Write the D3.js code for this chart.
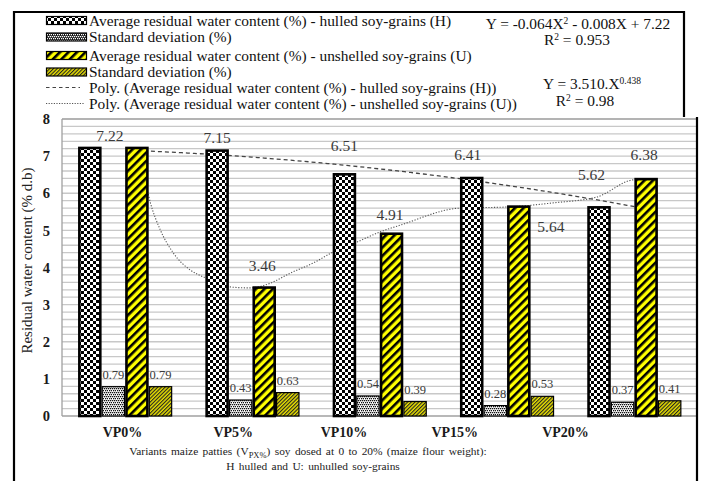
<!DOCTYPE html>
<html>
<head>
<meta charset="utf-8">
<script src="https://cdn.jsdelivr.net/npm/d3@7"></script>
<style>
  html, body { margin: 0; padding: 0; background: #fff; }
  svg { display: block; }
</style>
</head>
<body>
<svg id="chart" width="703" height="481"></svg>
<script>
// ---- data -------------------------------------------------------------
const categories    = ["VP0%", "VP5%", "VP10%", "VP15%", "VP20%"];
const hulledMean    = [7.22, 7.15, 6.51, 6.41, 5.62];
const hulledSD      = [0.79, 0.43, 0.54, 0.28, 0.37];
const unshelledMean = [7.22, 3.46, 4.91, 5.64, 6.38];
const unshelledSD   = [0.79, 0.63, 0.39, 0.53, 0.41];
const yTicks        = [0, 1, 2, 3, 4, 5, 6, 7, 8];

// quadratic trend of the hulled series: a*X^2 + b*X + c, X = 1..5
const hulledPolyCoef = [-0.064, -0.008, 7.22];
// trend of the unshelled series, [X, value] with X = 1..5
const unshelledTrend = [
  [1.00, 7.22], [1.05, 6.55], [1.106, 5.74], [1.184, 5.01], [1.286, 4.39],
  [1.42, 3.93], [1.54, 3.72], [1.75, 3.47], [1.89, 3.45], [2.05, 3.58],
  [2.205, 3.85], [2.385, 4.12], [2.542, 4.42], [2.731, 4.69], [2.911, 4.96],
  [3.068, 5.14], [3.539, 5.60], [3.908, 5.63], [4.269, 5.74], [4.614, 5.90],
  [4.897, 6.36], [5.00, 6.38]
];

const legendItems = [
  "Average residual water content (%) - hulled soy-grains (H)",
  "Standard deviation (%)",
  "Average residual water content (%) - unshelled soy-grains (U)",
  "Standard deviation (%)",
  "Poly. (Average residual water content (%) - hulled soy-grains (H))",
  "Poly. (Average residual water content (%) - unshelled soy-grains (U))"
];

// value-label placement relative to the bar's top centre (dx, baseline dy)
const hulledLabelShift    = [[20, -7], [0, -8], [0, -23.5], [-4, -18], [-7.5, -27.5]];
const unshelledLabelShift = [null, [-2, -16.6], [-1.5, -14], [32, 25], [-2, -19]];

// ---- setup ------------------------------------------------------------
const SERIF = "'Liberation Serif', 'Times New Roman', serif";
const svg = d3.select("#chart");
const P = { left: 62, right: 697, top: 119, bottom: 416 };

const x = d3.scaleBand().domain(categories).range([61.5, 698])
  .paddingInner(0.26).paddingOuter(0.13);
const seriesKeys = ["hulled", "hulledSD", "unshelled", "unshelledSD"];
const xs = d3.scaleBand().domain(seriesKeys).range([0, x.bandwidth()]);
const y = d3.scaleLinear().domain([0, 8]).range([P.bottom, P.top]);
const xLabel = d3.scalePoint().domain(categories).range([122, 565]);

const barCenter = (cat, key) => x(cat) + xs(key) + xs.bandwidth() / 2;
const xt = d3.scaleLinear().domain([1, 5])
  .range([barCenter(categories[0], "unshelled"), barCenter(categories[4], "unshelled")]);

// ---- fill patterns ----------------------------------------------------
const defs = svg.append("defs");

const checker = defs.append("pattern").attr("id", "pChecker")
  .attr("patternUnits", "userSpaceOnUse").attr("width", 6).attr("height", 6);
checker.append("rect").attr("width", 6).attr("height", 6).attr("fill", "#fff");
checker.append("rect").attr("width", 3).attr("height", 3).attr("fill", "#000");
checker.append("rect").attr("x", 3).attr("y", 3).attr("width", 3).attr("height", 3).attr("fill", "#000");

function speckle(id, bg, fg) {
  const p = defs.append("pattern").attr("id", id)
    .attr("patternUnits", "userSpaceOnUse").attr("width", 4).attr("height", 4);
  p.append("rect").attr("width", 4).attr("height", 4).attr("fill", bg);
  [[0, 0], [2, 0], [1, 2], [3, 2]].forEach(([a, b]) =>
    p.append("rect").attr("x", a).attr("y", b).attr("width", 1.3).attr("height", 1.3).attr("fill", fg));
}
speckle("pDots", "#fff", "#111");
speckle("pDotsDark", "#111", "#fff");

const stripes = defs.append("pattern").attr("id", "pStripes")
  .attr("patternUnits", "userSpaceOnUse").attr("width", 6).attr("height", 6)
  .attr("patternTransform", "rotate(45)");
stripes.append("rect").attr("width", 6).attr("height", 6).attr("fill", "#ffff00");
stripes.append("rect").attr("width", 2.6).attr("height", 6).attr("fill", "#000");

const lines = defs.append("pattern").attr("id", "pLines")
  .attr("patternUnits", "userSpaceOnUse").attr("width", 2.6).attr("height", 6)
  .attr("patternTransform", "rotate(45)");
lines.append("rect").attr("width", 2.6).attr("height", 6).attr("fill", "#e8e000");
lines.append("rect").attr("width", 1.1).attr("height", 6).attr("fill", "#222");

const style = {
  hulled:      { fill: "url(#pChecker)", legend: "url(#pChecker)",  sw: 2.6 },
  hulledSD:    { fill: "url(#pDots)",    legend: "url(#pDotsDark)", sw: 1.2 },
  unshelled:   { fill: "url(#pStripes)", legend: "url(#pStripes)",  sw: 2.6 },
  unshelledSD: { fill: "url(#pLines)",   legend: "url(#pLines)",    sw: 1.2 }
};

// ---- gridlines & axes -------------------------------------------------
svg.append("g").selectAll("line").data(y.ticks(40).filter(v => v > 0 && v < 8))
  .join("line")
  .attr("x1", P.left).attr("x2", P.right)
  .attr("y1", d => y(d)).attr("y2", d => y(d))
  .attr("stroke", "#c8c8c8").attr("stroke-width", 1.3);

svg.append("line").attr("x1", P.left).attr("x2", P.right)
  .attr("y1", y(8)).attr("y2", y(8)).attr("stroke", "#9a9a9a").attr("stroke-width", 1.5);
svg.append("line").attr("x1", P.left).attr("x2", P.right)
  .attr("y1", y(0)).attr("y2", y(0)).attr("stroke", "#a0a0a0").attr("stroke-width", 1.3);
svg.append("line").attr("x1", P.left).attr("x2", P.left)
  .attr("y1", y(0)).attr("y2", y(8)).attr("stroke", "#a0a0a0").attr("stroke-width", 1.3);

const yAxis = svg.append("g").attr("transform", `translate(${P.left},0)`)
  .call(d3.axisLeft(y).tickValues(yTicks).tickSize(0).tickPadding(12).tickFormat(d3.format("d")));
yAxis.select(".domain").remove();
yAxis.selectAll("text").attr("font-family", SERIF).attr("font-size", 14.5)
  .attr("font-weight", "bold").attr("fill", "#1a1a1a");

const xAxis = svg.append("g").attr("transform", `translate(0,${P.bottom})`)
  .call(d3.axisBottom(xLabel).tickSize(0).tickPadding(11));
xAxis.select(".domain").remove();
xAxis.selectAll("text").attr("font-family", SERIF).attr("font-size", 14)
  .attr("font-weight", "bold").attr("fill", "#1a1a1a");

// ---- trend lines (behind the bars) ------------------------------------
const hulledFit = X => hulledPolyCoef[0] * X * X + hulledPolyCoef[1] * X + hulledPolyCoef[2];
const line = d3.line().x(d => xt(d[0])).y(d => y(d[1]));
svg.append("path")
  .attr("d", line(d3.range(1, 5.0001, 0.05).map(X => [X, hulledFit(X)])))
  .attr("fill", "none").attr("stroke", "#444").attr("stroke-width", 1.3)
  .attr("stroke-dasharray", "4,3");
svg.append("path")
  .attr("d", line.curve(d3.curveMonotoneX)(unshelledTrend))
  .attr("fill", "none").attr("stroke", "#555").attr("stroke-width", 1.1)
  .attr("stroke-dasharray", "1.2,1.6");

// ---- bars -------------------------------------------------------------
const seriesValues = { hulled: hulledMean, hulledSD: hulledSD, unshelled: unshelledMean, unshelledSD: unshelledSD };
const barData = [];
categories.forEach((c, i) => seriesKeys.forEach(k => barData.push({ c, k, v: seriesValues[k][i] })));

svg.append("g").selectAll("rect").data(barData).join("rect")
  .attr("x", d => x(d.c) + xs(d.k) + style[d.k].sw / 2)
  .attr("width", d => xs.bandwidth() - style[d.k].sw)
  .attr("y", d => y(d.v))
  .attr("height", d => y(0) - y(d.v))
  .attr("fill", d => style[d.k].fill)
  .attr("stroke", "#000").attr("stroke-width", d => style[d.k].sw);

// ---- value labels -----------------------------------------------------
const labels = [];
categories.forEach((c, i) => {
  const h = hulledLabelShift[i];
  labels.push({ x: barCenter(c, "hulled") + h[0], y: y(hulledMean[i]) + h[1], t: hulledMean[i].toFixed(2), fs: 15.5 });
  const u = unshelledLabelShift[i];
  if (u) labels.push({ x: barCenter(c, "unshelled") + u[0], y: y(unshelledMean[i]) + u[1], t: unshelledMean[i].toFixed(2), fs: 15.5 });
  labels.push({ x: barCenter(c, "hulledSD"), y: y(hulledSD[i]) - 8, t: hulledSD[i].toFixed(2), fs: 12.5 });
  labels.push({ x: barCenter(c, "unshelledSD"), y: y(unshelledSD[i]) - 8, t: unshelledSD[i].toFixed(2), fs: 12.5 });
});
svg.append("g").selectAll("text").data(labels).join("text")
  .attr("x", d => d.x).attr("y", d => d.y)
  .attr("text-anchor", "middle")
  .attr("font-family", SERIF).attr("font-size", d => d.fs).attr("fill", "#3a3a3a")
  .text(d => d.t);

// ---- axis titles ------------------------------------------------------
svg.append("text")
  .attr("transform", `translate(32,${(P.top + P.bottom) / 2 - 7}) rotate(-90)`)
  .attr("text-anchor", "middle")
  .attr("font-family", SERIF).attr("font-size", 15).attr("fill", "#222")
  .text("Residual  water content (% d.b)");

const t1 = svg.append("text").attr("x", 308).attr("y", 455).attr("text-anchor", "middle")
  .attr("font-family", SERIF).attr("font-size", 11.4).attr("fill", "#222")
  .attr("word-spacing", 1.5);
t1.append("tspan").text("Variants maize patties (V");
t1.append("tspan").attr("font-size", 8.5).attr("dy", 2.5).text("PX%");
t1.append("tspan").attr("dy", -2.5).text(") soy dosed at 0 to 20% (maize flour weight):");
svg.append("text").attr("x", 313).attr("y", 470).attr("text-anchor", "middle")
  .attr("font-family", SERIF).attr("font-size", 11.4).attr("fill", "#222")
  .attr("word-spacing", 1.5)
  .text("H hulled and U: unhulled soy-grains");

// ---- legend -----------------------------------------------------------
const legendBase = [25.5, 42, 60.5, 77, 92.5, 108.5];
const lg = svg.append("g");
legendItems.forEach((t, i) => {
  const by = legendBase[i];
  const cy = by - 5;
  if (i < 4) {
    const k = seriesKeys[i];
    lg.append("rect").attr("x", 46.5).attr("y", cy - 4).attr("width", 40).attr("height", 8)
      .attr("fill", style[k].legend).attr("stroke", "#000").attr("stroke-width", 1.2);
  } else {
    lg.append("line").attr("x1", 46).attr("x2", i === 4 ? 80 : 85).attr("y1", cy).attr("y2", cy)
      .attr("stroke", i === 4 ? "#444" : "#555").attr("stroke-width", i === 4 ? 1.2 : 1)
      .attr("stroke-dasharray", i === 4 ? "3.5,3" : "1.2,1.4");
  }
  lg.append("text").attr("x", 89).attr("y", by)
    .attr("font-family", SERIF).attr("font-size", 15.4).attr("fill", "#111").text(t);
});

// ---- trend equations --------------------------------------------------
// parts: plain strings, or {sup: "..."} for a raised exponent
function eq(xc, yb, parts) {
  const t = svg.append("text").attr("x", xc).attr("y", yb).attr("text-anchor", "middle")
    .attr("font-family", SERIF).attr("font-size", 15.4).attr("fill", "#111");
  let raised = false;
  parts.forEach(p => {
    if (typeof p === "string") {
      t.append("tspan").attr("dy", raised ? 5 : 0).text(p);
      raised = false;
    } else {
      t.append("tspan").attr("font-size", 9.5).attr("dy", -5).text(p.sup);
      raised = true;
    }
  });
}
eq(578, 29, ["Y = -0.064X", { sup: "2" }, " - 0.008X + 7.22"]);
eq(577, 45, ["R", { sup: "2" }, " = 0.953"]);
eq(592, 89, ["Y = 3.510.X", { sup: "0.438" }]);
eq(585, 106, ["R", { sup: "2" }, " = 0.98"]);

// ---- outer frame ------------------------------------------------------
const frame = d3.path();
frame.moveTo(14, 481); frame.lineTo(14, 12); frame.lineTo(684, 12); frame.lineTo(684, 117);
svg.append("path").attr("d", frame.toString()).attr("fill", "none")
  .attr("stroke", "#000").attr("stroke-width", 2.2);
svg.append("line").attr("x1", 697).attr("x2", 697).attr("y1", 117).attr("y2", 481)
  .attr("stroke", "#000").attr("stroke-width", 2.2);
</script>
</body>
</html>
